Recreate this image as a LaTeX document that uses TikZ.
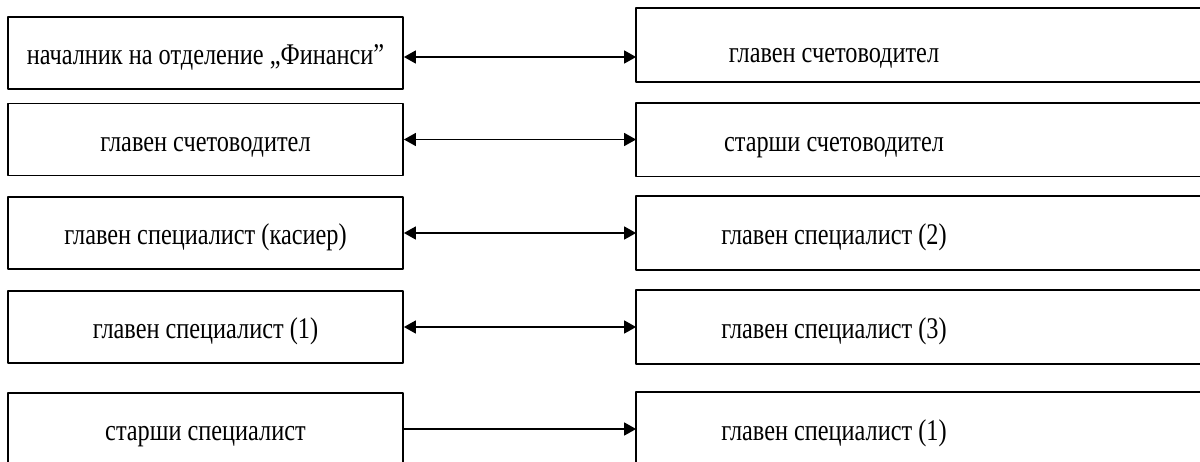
\documentclass[tikz,border=0pt]{standalone}
\usepackage{fontspec}
\setmainfont{Liberation Serif}[FakeStretch=0.81]
\usetikzlibrary{arrows.meta}
\begin{document}
\begin{tikzpicture}[x=1pt,y=-1pt,line join=round,>={Triangle[length=12pt,width=13pt]},
  box/.style={draw,line width=1.8pt,minimum width=395pt,minimum height=72pt,inner sep=0pt,
    text height=26pt,text depth=3pt,font=\fontsize{30}{35}\selectfont},
  rbox/.style={box,draw=none,minimum width=394pt},
  frame/.style={line width=1.8pt},
  link/.style={line width=1.6pt}]
\useasboundingbox (0,0) rectangle (1200,461);
% left column
\node[box] (l1) at (205.5,53) {началник на отделение „Финанси”};
\node[box] (l2) at (205.5,139.5) {главен счетоводител};
\node[box] (l3) at (205.5,233) {главен специалист (касиер)};
\node[box] (l4) at (205.5,327) {главен специалист (1)};
\node[box] (l5) at (205.5,429) {старши специалист};
% right column
\node[rbox,text height=37pt] (r1) at (834,45) {главен счетоводител};
\node[rbox] (r2) at (834,139.5) {старши счетоводител};
\node[rbox] (r3) at (834,233) {главен специалист (2)};
\node[rbox] (r4) at (834,327) {главен специалист (3)};
\node[rbox] (r5) at (834,429) {главен специалист (1)};
\foreach \i in {1,...,5}\draw[frame] ([xshift=250pt]r\i.north east) -| (r\i.south west) -- ++(650,0);
% links
\draw[link,<->] ([yshift=-4pt]l1.east) -- ([yshift=-4pt]l1.east -| r1.west);
\foreach \i in {2,3,4}\draw[link,<->] (l\i.east) -- (l\i.east -| r\i.west);
\draw[link,->] (l5.east) -- (l5.east -| r5.west);
\end{tikzpicture}
\end{document}
